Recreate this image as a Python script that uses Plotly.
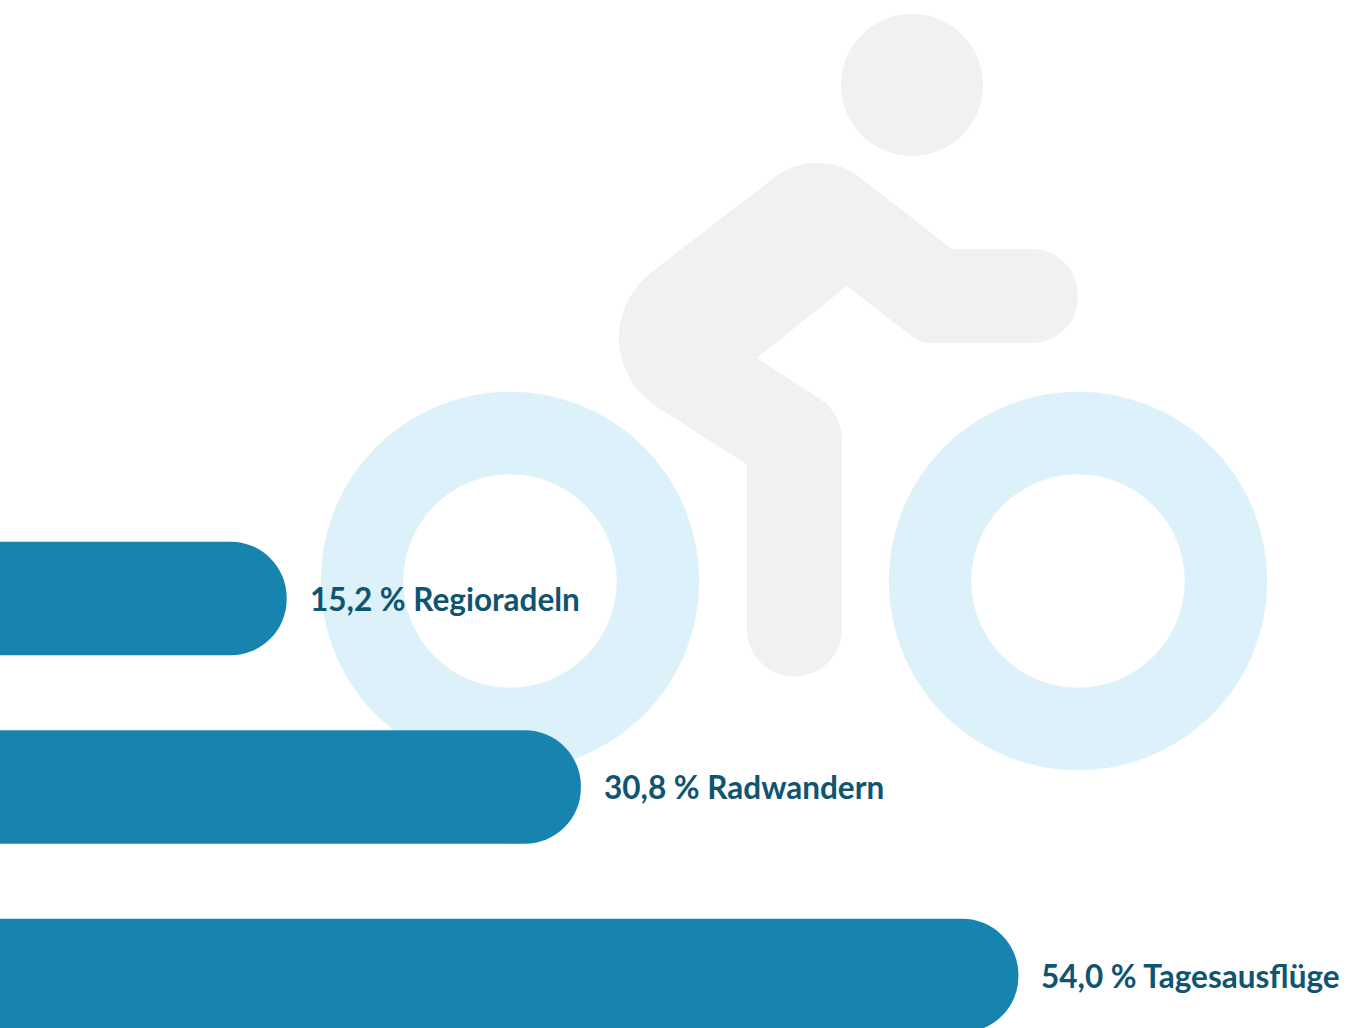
import plotly.graph_objects as go

categories = ["Regioradeln", "Radwandern", "Tagesausflüge"]
values = [15.2, 30.8, 54.0]

W, H = 1350, 1028
BAR = "#1784b0"
TEXT = "#0f5470"
GRAY = "#f1f1f1"
WHEEL = "#dcf1fa"

def px(x):
    return x / W

def py(y):
    return 1 - y / H

def P(x, y):
    return f"{px(x):.5f},{py(y):.5f}"

def circle(cx, cy, r, **kw):
    return dict(type="circle", xref="paper", yref="paper", layer="below",
                x0=px(cx - r), x1=px(cx + r), y0=py(cy + r), y1=py(cy - r), **kw)

body = (
    "M" + P(817, 163) + " C" + P(834, 163) + " " + P(847, 168) + " " + P(858, 176)
    + " L" + P(952, 249) + " L" + P(1032, 249)
    + " C" + P(1058, 249) + " " + P(1078, 270) + " " + P(1078, 296)
    + " C" + P(1078, 322) + " " + P(1058, 343) + " " + P(1032, 343)
    + " L" + P(932, 343)
    + " C" + P(924, 343) + " " + P(916, 340) + " " + P(910, 335)
    + " L" + P(847, 286) + " L" + P(757, 358) + " L" + P(820, 399)
    + " C" + P(834, 408) + " " + P(842, 424) + " " + P(842, 440)
    + " L" + P(842, 629)
    + " C" + P(842, 655) + " " + P(821, 676.5) + " " + P(794.5, 676.5)
    + " C" + P(768, 676.5) + " " + P(747, 655) + " " + P(747, 629)
    + " L" + P(747, 464.5) + " L" + P(657, 407)
    + " C" + P(634, 392) + " " + P(619, 366) + " " + P(619, 338)
    + " C" + P(619, 312) + " " + P(632, 287) + " " + P(653, 271)
    + " L" + P(775, 177)
    + " C" + P(787, 168) + " " + P(801, 163) + " " + P(817, 163) + " Z"
)

shapes = [
    circle(912, 85, 71, fillcolor=GRAY, line=dict(width=0)),
    dict(type="path", xref="paper", yref="paper", layer="below", path=body,
         fillcolor=GRAY, line=dict(width=0)),
    circle(510, 581, 148, line=dict(color=WHEEL, width=82.5)),
    circle(1078, 581, 148, line=dict(color=WHEEL, width=82.5)),
]

fig = go.Figure(go.Bar(
    x=values, y=categories, orientation="h",
    marker=dict(color=BAR, line=dict(width=0)),
    hoverinfo="skip",
))

annotations = [
    dict(x=v, y=c, xref="x", yref="y", xanchor="left", yanchor="middle",
         xshift=21, yshift=0, showarrow=False,
         text=f"<b>{v:.1f} %".replace(".", ",") + f" {c}</b>",
         font=dict(family="Lato, sans-serif", size=31.5, color=TEXT))
    for c, v in zip(categories, values)
]

fig.update_layout(
    width=W, height=H, autosize=False,
    margin=dict(l=0, r=0, t=0, b=0, pad=0),
    paper_bgcolor="white", plot_bgcolor="rgba(0,0,0,0)",
    showlegend=False, bargap=0.398, barcornerradius=56.5,
    shapes=shapes, annotations=annotations,
    xaxis=dict(range=[0, 71.58], visible=False, fixedrange=True),
    yaxis=dict(type="category", categoryorder="array", categoryarray=categories,
               range=[2.2785, -3.175], visible=False, fixedrange=True),
)

fig.write_html("out.html", config=dict(displayModeBar=False),
               post_script="document.body.style.margin='0';document.body.style.overflow='hidden';")
